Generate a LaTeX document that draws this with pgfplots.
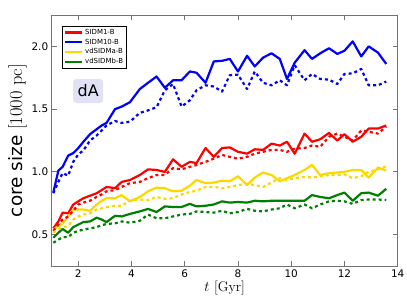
\documentclass[border=0pt]{standalone}
\usepackage{pgfplots}
\pgfplotsset{compat=1.18}
\usepackage{pgfplotstable}
\usepackage{fontspec}
\setsansfont{DejaVu Sans}
\definecolor{cred}{RGB}{255,0,0}
\definecolor{cblue}{RGB}{0,0,255}
\definecolor{cyel}{RGB}{255,215,0}
\definecolor{cgreen}{RGB}{0,128,0}
\definecolor{lav}{RGB}{226,226,246}
\pgfplotstableread{
t      bs     bd     rs     rd     ys     yd     gs     gd
1.06  0.835 0.83  0.55  0.53  0.54  0.515 0.475 0.435
1.25  1.01  0.92  0.605 0.58  0.57  0.545 0.515 0.46
1.41  1.04  0.99  0.675 0.62  0.59  0.555 0.545 0.48
1.62  1.13  0.97  0.67  0.645 0.645 0.57  0.515 0.48
1.81  1.15  1.08  0.74  0.69  0.70  0.62  0.56  0.515
2.00  1.19  1.14  0.765 0.74  0.70  0.645 0.58  0.53
2.19  1.24  1.17  0.79  0.755 0.70  0.66  0.60  0.54
2.44  1.30  1.25  0.81  0.77  0.69  0.67  0.605 0.55
2.69  1.34  1.29  0.83  0.80  0.74  0.70  0.635 0.56
2.88  1.37  1.33  0.855 0.82  0.77  0.71  0.62  0.575
3.06  1.39  1.37  0.88  0.845 0.79  0.72  0.60  0.585
3.38  1.50  1.405 0.87  0.855 0.79  0.73  0.65  0.59
3.63  1.52  1.39  0.92  0.88  0.815 0.73  0.645 0.605
3.94  1.555 1.40  0.935 0.91  0.765 0.77  0.665 0.595
4.31  1.66  1.47  0.975 0.92  0.80  0.78  0.685 0.61
4.62  1.71  1.49  1.02  0.95  0.845 0.775 0.705 0.66
4.94  1.76  1.515 1.015 0.975 0.875 0.80  0.68  0.63
5.25  1.67  1.65  1.00  0.975 0.87  0.785 0.725 0.63
5.56  1.73  1.70  1.10  1.03  0.845 0.79  0.72  0.645
5.88  1.73  1.52  1.04  1.02  0.85  0.82  0.72  0.66
6.19  1.80  1.57  1.08  1.04  0.89  0.84  0.745 0.665
6.44  1.79  1.65  1.07  1.055 0.935 0.85  0.725 0.685
6.78  1.71  1.69  1.19  1.08  0.91  0.88  0.73  0.68
7.09  1.88  1.68  1.12  1.105 0.915 0.88  0.74  0.675
7.40  1.885 1.64  1.19  1.135 0.93  0.87  0.765 0.69
7.69  1.90  1.77  1.195 1.12  0.925 0.88  0.755 0.67
8.00  1.80  1.775 1.16  1.105 0.965 0.895 0.76  0.68
8.34  1.925 1.66  1.145 1.12  0.895 0.905 0.755 0.705
8.63  1.84  1.80  1.18  1.145 0.955 0.895 0.77  0.69
8.94  1.91  1.71  1.175 1.16  0.995 0.88  0.765 0.685
9.26  1.945 1.69  1.225 1.175 0.975 0.915 0.77  0.70
9.57  1.90  1.73  1.21  1.175 0.925 0.95  0.77  0.71
9.84  1.74  1.69  1.24  1.16  0.95  0.935 0.77  0.74
10.13 1.87  1.85  1.145 1.185 0.975 0.95  0.77  0.71
10.50 1.97  1.73  1.305 1.19  1.015 0.96  0.77  0.74
10.78 1.90  1.78  1.24  1.21  1.055 0.955 0.815 0.71
11.09 1.945 1.74  1.26  1.20  0.975 0.965 0.80  0.74
11.42 1.985 1.735 1.31  1.28  0.99  0.975 0.79  0.765
11.73 1.94  1.70  1.25  1.305 0.995 0.975 0.815 0.77
12.00 1.965 1.78  1.30  1.28  1.00  0.98  0.835 0.765
12.31 2.04  1.785 1.24  1.25  1.015 0.95  0.77  0.745
12.63 1.92  1.82  1.28  1.33  1.015 0.965 0.83  0.775
12.91 2.00  1.69  1.345 1.32  0.955 1.00  0.835 0.78
13.26 1.95  1.69  1.345 1.305 1.035 1.02  0.81  0.78
13.57 1.86  1.72  1.37  1.36  1.01  1.045 0.865 0.775
}\data
\begin{document}
\begin{tikzpicture}
\path[use as bounding box] (-51.7bp,-39bp) rectangle (355.3bp,266bp);
\begin{axis}[
  at={(0,0)}, anchor=south west,
  scale only axis, width=346bp, height=251bp,
  xmin=1, xmax=14, ymin=0.25, ymax=2.25,
  xtick={2,4,...,14}, ytick={0.5,1.0,1.5,2.0},
  yticklabel style={/pgf/number format/fixed,/pgf/number format/fixed zerofill,/pgf/number format/precision=1},
  /pgf/number format/assume math mode=true,
  ticklabel style={font=\sffamily\fontsize{10.5}{12}\selectfont, text=black},
  axis line style={black!55, line width=0.8bp},
  every tick/.style={black!55, line width=0.8bp},
  major tick length=5bp,
  tick align=inside,
  xlabel={$t$ [Gyr]},
  xlabel style={font=\fontsize{14}{16}\selectfont, yshift=3bp},
  ylabel={{\sffamily core size} [1000 pc]},
  ylabel style={font=\fontsize{18.5}{20}\selectfont, yshift=-2bp},
  legend style={at={(0.0306,0.957)}, anchor=north west, draw=black, line width=0.6bp,
    font=\sffamily\fontsize{7}{8}\selectfont, inner sep=1.2bp, row sep=-1bp,
    cells={anchor=west}},
  legend image code/.code={\draw[#1, line width=2.4bp] (0bp,0bp) -- (17bp,0bp);},
  every axis plot/.append style={line width=2.2bp, line join=round},
  dotplot/.style={dash pattern=on 3bp off 3bp},
]
\addplot[cred] table[x=t,y=rs]{\data};
\addlegendentry{SIDM1-B}
\addplot[cblue] table[x=t,y=bs]{\data};
\addlegendentry{SIDM10-B}
\addplot[cyel] table[x=t,y=ys]{\data};
\addlegendentry{vdSIDMa-B}
\addplot[cgreen] table[x=t,y=gs]{\data};
\addlegendentry{vdSIDMb-B}
\addplot[cred, dotplot, forget plot] table[x=t,y=rd]{\data};
\addplot[cblue, dotplot, forget plot] table[x=t,y=bd]{\data};
\addplot[cyel, dotplot, forget plot] table[x=t,y=yd]{\data};
\addplot[cgreen, dotplot, forget plot] table[x=t,y=gd]{\data};
\node[fill=lav, rounded corners=3bp, minimum width=30bp, minimum height=24bp, inner sep=0pt,
  font=\sffamily\fontsize{16}{18}\selectfont] at (axis cs:2.37,1.644) {dA};
\end{axis}
\end{tikzpicture}
\end{document}
